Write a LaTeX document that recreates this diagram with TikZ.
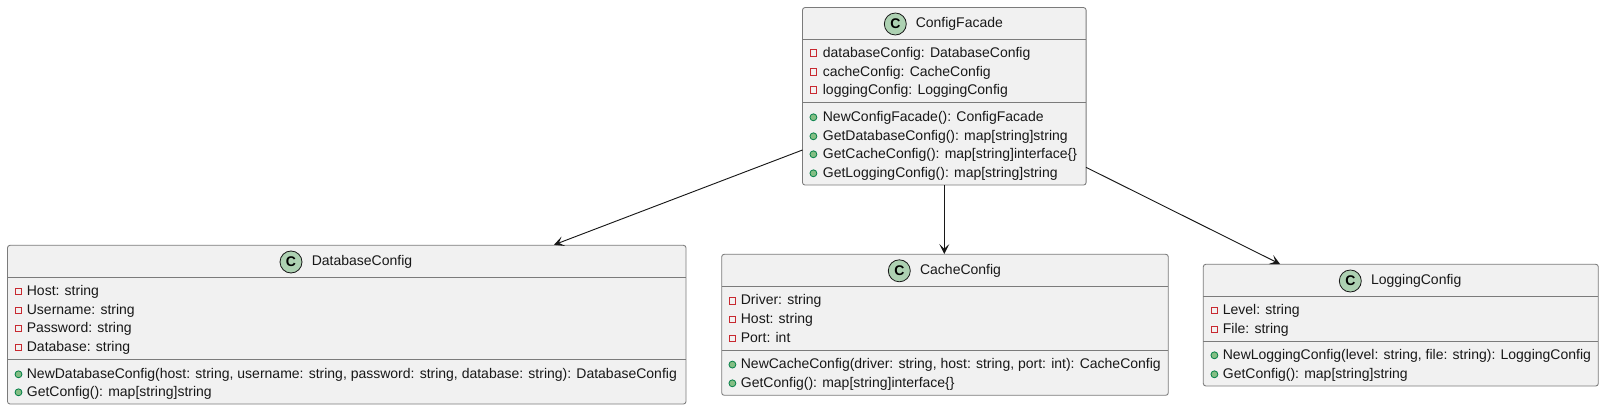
\documentclass[tikz,border=0pt]{standalone}
\usepackage{fontspec}
\setmainfont{Liberation Sans}
\usetikzlibrary{arrows.meta}
\definecolor{boxfill}{HTML}{F1F1F1}
\definecolor{boxline}{HTML}{7B7B7B}
\definecolor{spot}{HTML}{ADD1B2}
\definecolor{privred}{HTML}{C82930}
\definecolor{pubfill}{HTML}{84BE84}
\definecolor{publine}{HTML}{038048}
\definecolor{ink}{HTML}{181818}
\tikzset{x=0.75pt,y=-0.75pt,
 classbox/.style={draw=boxline,fill=boxfill,line width=0.65pt,rounded corners=1.9pt,inner sep=0},
 divider/.style={draw=boxline,line width=0.65pt},
 spotmark/.style={circle,draw=ink,fill=spot,line width=0.6pt,minimum size=16.5pt,inner sep=0,font=\fontsize{10.5pt}{10.5pt}\selectfont\bfseries,text=black},
 title/.style={anchor=west,inner sep=0,text height=7.8pt,text depth=2pt,font=\fontsize{10.5pt}{12pt}\selectfont,text=ink},
 member/.style={anchor=west,inner sep=0,text height=7.8pt,text depth=2pt,font=\fontsize{10.5pt}{12pt}\selectfont,text=ink},
 privmark/.style={rectangle,draw=privred,fill=none,line width=0.7pt,minimum size=5pt,inner sep=0},
 pubmark/.style={circle,draw=publine,fill=pubfill,line width=0.6pt,minimum size=5.2pt,inner sep=0},
 link/.style={draw=ink,line width=0.7pt,-{Stealth[length=7.5pt,width=7.5pt,inset=3.6pt]}}}
\begin{document}
\begin{tikzpicture}
\useasboundingbox (0,0) rectangle (1604,410);
% ConfigFacade
\node[classbox,minimum width=283.6*0.75pt,minimum height=177.5*0.75pt] (cf) at (944.3,96.3) {};
\draw[divider] (802.5,39.5) -- (1086.1,39.5);
\draw[divider] (802.5,102.5) -- (1086.1,102.5);
\node[spotmark] (cfs) at (895.3,24) {C};
\node[title] (cft) at (915.5,24) {ConfigFacade};
\foreach \n/\y/\t in {a/53.3/{databaseConfig: DatabaseConfig},b/72.3/{cacheConfig: CacheConfig},c/90.3/{loggingConfig: LoggingConfig}}{
 \node[privmark] (cfp\n) at (813.4,\y) {};
 \node[member] (cfm\n) at (822.6,\y) {\t};}
\foreach \n/\y/\t in {a/117.3/{NewConfigFacade(): ConfigFacade},b/136.3/{GetDatabaseConfig(): map[string]string},c/154.3/{GetCacheConfig(): map[string]interface\{\}},d/173.3/{GetLoggingConfig(): map[string]string}}{
 \node[pubmark] (cfq\n) at (813.4,\y) {};
 \node[member] (cfn\n) at (822.6,\y) {\t};}
% DatabaseConfig
\node[classbox,minimum width=678.5*0.75pt,minimum height=158.7*0.75pt] (db) at (346.75,324.65) {};
\draw[divider] (7.5,277.4) -- (686,277.4);
\draw[divider] (7.5,359.4) -- (686,359.4);
\node[spotmark] (dbs) at (291,262) {C};
\node[title] (dbt) at (311.5,262) {DatabaseConfig};
\foreach \n/\y/\t in {a/291.3/{Host: string},b/310.3/{Username: string},c/328.3/{Password: string},d/347.3/{Database: string}}{
 \node[privmark] (dbp\n) at (18.5,\y) {};
 \node[member] (dbm\n) at (26.6,\y) {\t};}
\foreach \n/\y/\t in {a/374.3/{NewDatabaseConfig(host: string, username: string, password: string, database: string): DatabaseConfig},b/392.3/{GetConfig(): map[string]string}}{
 \node[pubmark] (dbq\n) at (18.5,\y) {};
 \node[member] (dbn\n) at (26.6,\y) {\t};}
% CacheConfig
\node[classbox,minimum width=446.6*0.75pt,minimum height=141*0.75pt] (ca) at (945,324.8) {};
\draw[divider] (721.7,286.4) -- (1168.3,286.4);
\draw[divider] (721.7,350.4) -- (1168.3,350.4);
\node[spotmark] (cas) at (899.3,270.8) {C};
\node[title] (cat) at (919.8,270.8) {CacheConfig};
\foreach \n/\y/\t in {a/301/{Driver: string},b/319.3/{Host: string},c/338.3/{Port: int}}{
 \node[privmark] (cap\n) at (732.4,\y) {};
 \node[member] (cam\n) at (740.6,\y) {\t};}
\foreach \n/\y/\t in {a/364.6/{NewCacheConfig(driver: string, host: string, port: int): CacheConfig},b/383.3/{GetConfig(): map[string]interface\{\}}}{
 \node[pubmark] (caq\n) at (732.4,\y) {};
 \node[member] (can\n) at (740.6,\y) {\t};}
% LoggingConfig
\node[classbox,minimum width=395*0.75pt,minimum height=121.7*0.75pt] (lg) at (1400.8,325.15) {};
\draw[divider] (1203.3,296.4) -- (1598.3,296.4);
\draw[divider] (1203.3,341.4) -- (1598.3,341.4);
\node[spotmark] (lgs) at (1350.3,281) {C};
\node[title] (lgt) at (1370.8,281) {LoggingConfig};
\foreach \n/\y/\t in {a/310.3/{Level: string},b/329.3/{File: string}}{
 \node[privmark] (lgp\n) at (1214.4,\y) {};
 \node[member] (lgm\n) at (1222.6,\y) {\t};}
\foreach \n/\y/\t in {a/355.3/{NewLoggingConfig(level: string, file: string): LoggingConfig},b/374.3/{GetConfig(): map[string]string}}{
 \node[pubmark] (lgq\n) at (1214.4,\y) {};
 \node[member] (lgn\n) at (1222.6,\y) {\t};}
% links
\coordinate (e1) at (802.5,150);
\coordinate (t1) at (554,244.8);
\coordinate (e2) at (944.3,185);
\coordinate (t2) at (944.3,254);
\coordinate (e3) at (1086,167.3);
\coordinate (t3) at (1280,264);
\draw[link] (e1) -- (t1);
\draw[link] (e2) -- (t2);
\draw[link] (e3) -- (t3);
\end{tikzpicture}
\end{document}
